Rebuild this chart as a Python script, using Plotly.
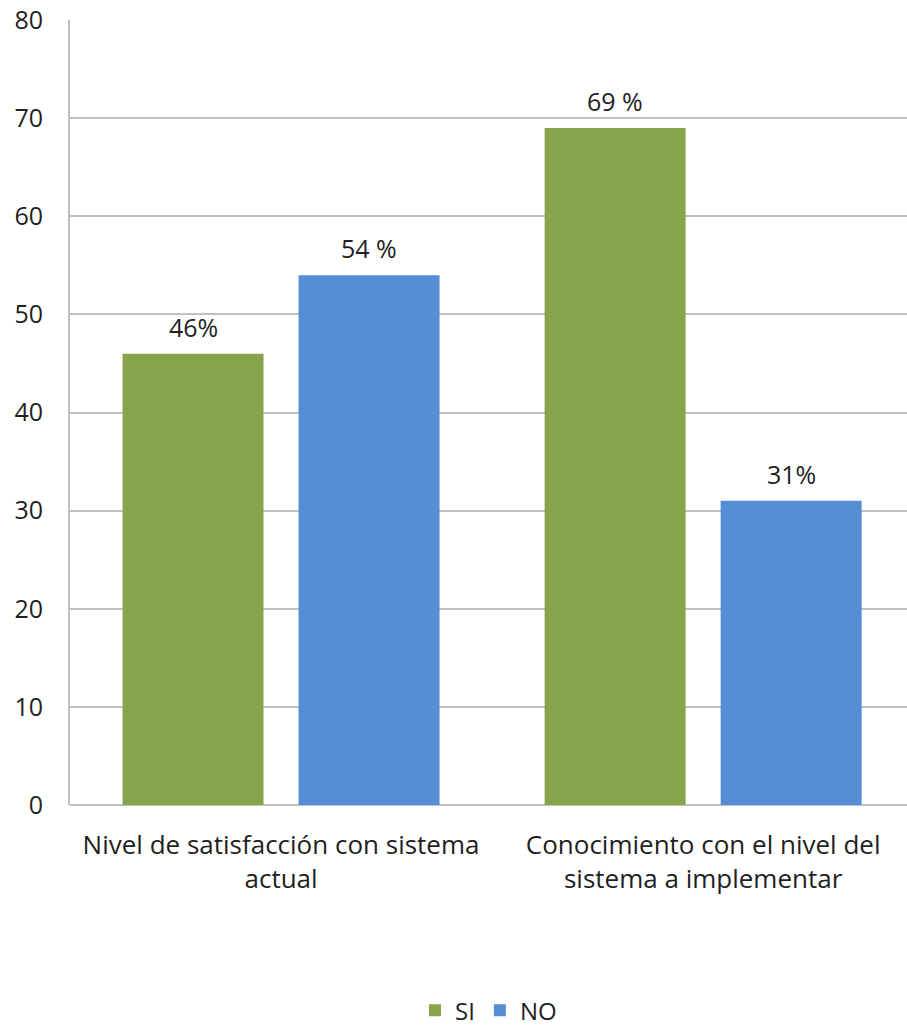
import plotly.graph_objects as go

categories = ["Nivel de satisfacción con sistema<br>actual",
              "Conocimiento con el nivel del<br>sistema a implementar"]
si_values = [46, 69]
no_values = [54, 31]
si_labels = ["46%", "69 %"]
no_labels = ["54 %", "31%"]
y_ticks = [0, 10, 20, 30, 40, 50, 60, 70, 80]

GREEN = "#88A44B"
BLUE = "#558ED5"
FONT = "Open Sans"
TEXT = "#1f1f1f"
BARGAP = 0.166
GROUPGAP = 0.199

fig = go.Figure()
fig.add_trace(go.Bar(name="SI", x=[0, 1], y=si_values, marker_color=GREEN,
                     marker_line_width=0))
fig.add_trace(go.Bar(name="NO", x=[0, 1], y=no_values, marker_color=BLUE,
                     marker_line_width=0))

slot = (1 - BARGAP) / 2
for i in range(len(categories)):
    for vals, labs, off in ((si_values, si_labels, -slot / 2), (no_values, no_labels, slot / 2)):
        fig.add_annotation(x=i + off, y=vals[i], text=labs[i], showarrow=False,
                           yanchor="bottom", yshift=8,
                           font=dict(family=FONT, size=25, color=TEXT))

fig.update_layout(
    width=907, height=1027,
    margin=dict(l=70, r=0, t=20, b=222, autoexpand=False),
    plot_bgcolor="white", paper_bgcolor="white",
    barmode="group", bargap=BARGAP, bargroupgap=GROUPGAP,
    font=dict(family=FONT, size=24, color=TEXT),
    showlegend=True,
    legend=dict(orientation="h", x=0.5, xanchor="center", y=-0.262, yanchor="middle",
                font=dict(family=FONT, size=24, color=TEXT),
                itemwidth=30, traceorder="normal"),
)
fig.update_xaxes(range=[-0.5, 1.483], tickvals=[0, 1], ticktext=categories,
                 showline=False, showgrid=False, ticks="", zeroline=False,
                 automargin=False, ticklabelstandoff=22,
                 tickfont=dict(family=FONT, size=26, color=TEXT))
fig.update_yaxes(range=[0, 80], tickvals=y_ticks, showgrid=True, gridcolor="#C0C0C0",
                 gridwidth=2, showline=True, linecolor="#C0C0C0", linewidth=2,
                 zeroline=True, zerolinecolor="#C0C0C0", zerolinewidth=2,
                 automargin=False, ticks="", ticklabelstandoff=20,
                 tickfont=dict(family=FONT, size=25, color=TEXT))

fig.write_html("out.html")
